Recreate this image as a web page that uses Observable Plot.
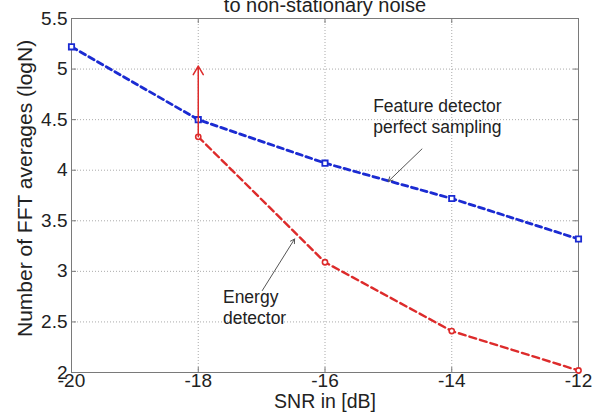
<!DOCTYPE html>
<html><head><meta charset="utf-8">
<script src="https://cdn.jsdelivr.net/npm/d3@7"></script>
<script src="https://cdn.jsdelivr.net/npm/@observablehq/plot@0.6"></script>
<style>body{margin:0;background:#fff;font-family:"Liberation Sans",Arial,sans-serif}</style>
</head><body><div id="chart"></div>
<script>
const snrFeature = [-20, -18, -16, -14, -12];
const feature = [5.22, 4.50, 4.07, 3.72, 3.32];
const snrEnergy = [-18, -16, -14, -12];
const energy = [4.33, 3.09, 2.41, 2.02];
const xTicks = [-20, -18, -16, -14, -12];
const yTicks = [2, 2.5, 3, 3.5, 4, 4.5, 5, 5.5];
const title = "to non-stationary noise";
const xLabel = "SNR in [dB]";
const yLabel = "Number of FFT averages (logN)";
const featureLabel = "Feature detector\nperfect sampling";
const energyLabel = "Energy\ndetector";
const labelPos = [{x: -15.24, y: 4.72, text: featureLabel}, {x: -17.61, y: 2.83, text: energyLabel}];
const pointerArrows = [
  {x1: -14.47, y1: 4.21, x2: -15.0, y2: 3.89},
  {x1: -16.99, y1: 2.81, x2: -16.48, y2: 3.32}
];
const redArrow = [{x1: -18, y1: 4.33, x2: -18, y2: 5.03}];

const featData = snrFeature.map((x, i) => ({x, y: feature[i]}));
const enData = snrEnergy.map((x, i) => ({x, y: energy[i]}));

const W = 592, H = 418, ML = 71, MR = 14, MT = 18, MB = 46;
const PW = W - ML - MR, PH = H - MT - MB;
const blue = "#1b2bd2", red = "#dd2b2b", axisCol = "#7a7a7a";
const chart = Plot.plot({
  width: W, height: H,
  marginLeft: ML, marginRight: MR, marginTop: MT, marginBottom: MB,
  style: {fontFamily: "Liberation Sans, Arial, sans-serif", fontSize: "19px", color: "#222", overflow: "visible"},
  x: {domain: [-20, -12], ticks: xTicks, label: null},
  y: {domain: [2, 5.5], ticks: yTicks, label: null},
  marks: [
    Plot.gridX(xTicks.slice(1, -1), {stroke: "#888", strokeOpacity: 0.7, strokeDasharray: "1,2"}),
    Plot.gridY(yTicks.slice(1, -1), {stroke: "#888", strokeOpacity: 0.7, strokeDasharray: "1,2"}),
    Plot.tickY(yTicks, {y: d => d, insetRight: PW - 5, stroke: axisCol}),
    Plot.tickY(yTicks, {y: d => d, insetLeft: PW - 5, stroke: axisCol}),
    Plot.tickX(xTicks, {x: d => d, insetTop: PH - 5, stroke: axisCol}),
    Plot.tickX(xTicks, {x: d => d, insetBottom: PH - 5, stroke: axisCol}),
    Plot.frame({stroke: axisCol}),
    Plot.axisX(xTicks, {tickSize: 0, tickPadding: 1, fontSize: 19, tickFormat: d => String(d)}),
    Plot.axisY(yTicks, {tickSize: 0, tickPadding: 4, fontSize: 19, tickFormat: d => String(d)}),
    Plot.text([title], {frameAnchor: "top", dy: -7, lineAnchor: "bottom", fontSize: 20, text: d => d}),
    Plot.text([xLabel], {frameAnchor: "bottom", dy: 35, fontSize: 19.5, text: d => d}),
    Plot.text([{y: 3.82, t: yLabel}], {y: "y", frameAnchor: "left", dx: -46, rotate: -90, textAnchor: "middle", fontSize: 21, text: "t"}),
    Plot.line(featData, {x: "x", y: "y", stroke: blue, strokeWidth: 2.8, strokeDasharray: "6,4"}),
    Plot.line(enData, {x: "x", y: "y", stroke: red, strokeWidth: 2.4, strokeDasharray: "7,4"}),
    Plot.dot(featData, {x: "x", y: "y", symbol: "square", r: 3, stroke: blue, strokeWidth: 1.8, fill: "white"}),
    Plot.dot(enData, {x: "x", y: "y", symbol: "circle", r: 2.6, stroke: red, strokeWidth: 1.6, fill: "white"}),
    Plot.arrow(redArrow, {x1: "x1", y1: "y1", x2: "x2", y2: "y2", stroke: red, strokeWidth: 1.5, headLength: 10}),
    Plot.arrow(pointerArrows, {x1: "x1", y1: "y1", x2: "x2", y2: "y2", stroke: "#555", strokeWidth: 1, headLength: 7}),
    Plot.text(labelPos, {x: "x", y: "y", text: "text", textAnchor: "start", lineAnchor: "top", fontSize: 17.5, lineHeight: 1.2, fill: "#222"})
  ]
});
document.getElementById("chart").appendChild(chart);
</script></body></html>
